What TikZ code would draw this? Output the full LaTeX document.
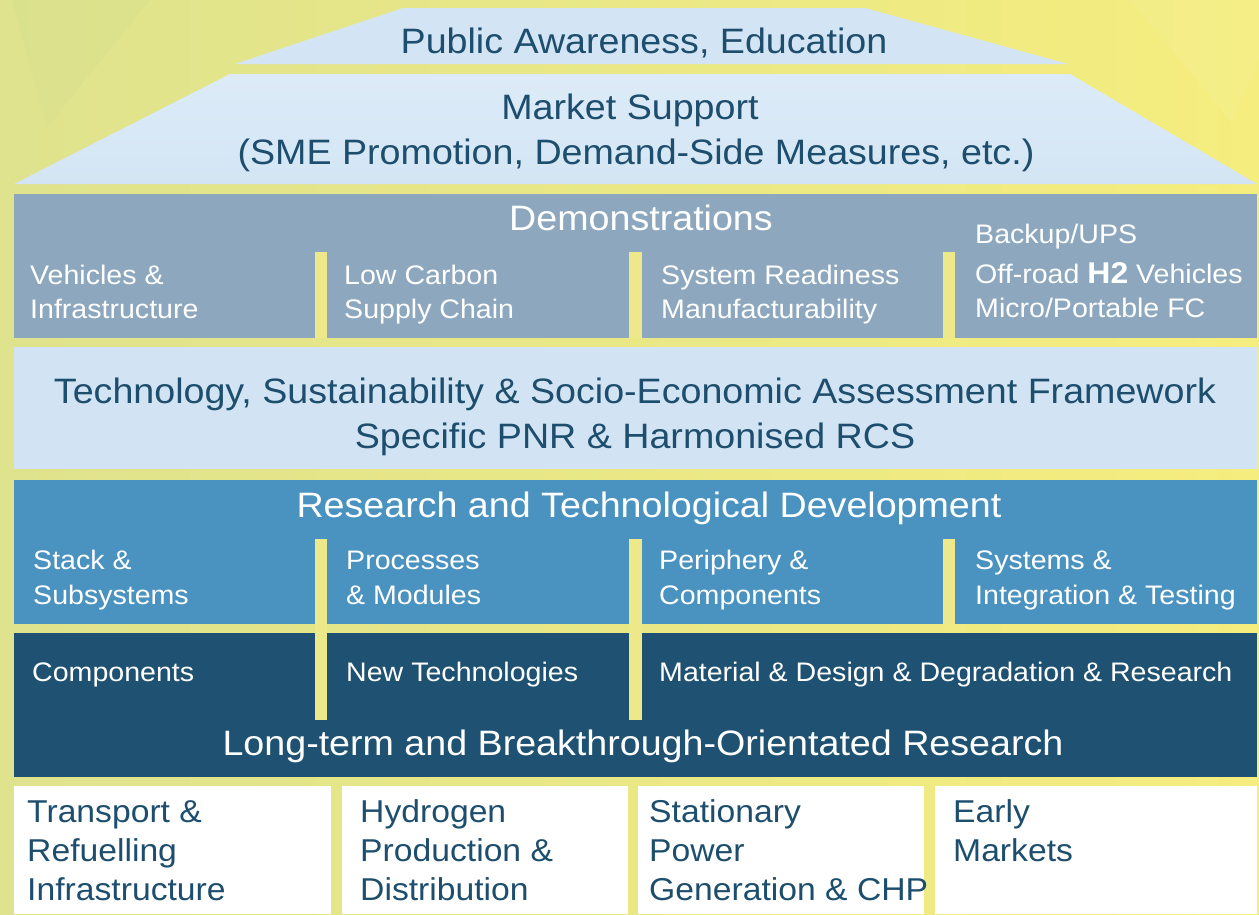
\documentclass[tikz,border=0pt]{standalone}
\usepackage{fontspec}
\setmainfont{Liberation Sans}[FakeStretch=1.066]
\definecolor{bgL}{HTML}{DFE38D}
\definecolor{bgR}{HTML}{F5ED7E}
\definecolor{bgG}{HTML}{D6DF8E}
\definecolor{barY}{HTML}{EDE98A}
\definecolor{roofB}{HTML}{D3E5F4}
\definecolor{roofT}{HTML}{DDEBF8}
\definecolor{demoB}{HTML}{8DA8BE}
\definecolor{tssB}{HTML}{D2E4F3}
\definecolor{rtdB}{HTML}{4A92C0}
\definecolor{ltB}{HTML}{1F5272}
\definecolor{darkT}{HTML}{1E4E6E}
\tikzset{
  bigdark/.style={font=\fontsize{35.3}{42}\selectfont, text=darkT, inner sep=0pt, anchor=base},
  bigwhite/.style={font=\fontsize{35.3}{42}\selectfont, text=white, inner sep=0pt, anchor=base},
  cell/.style={font=\fontsize{26.8}{34}\selectfont, text=white, inner sep=0pt, anchor=base west},
  foot/.style={font=\fontsize{31.6}{39}\selectfont, text=darkT, inner sep=0pt, anchor=base west},
  bar/.style={fill=barY},
}
\begin{document}
\begin{tikzpicture}[x=1pt,y=-1pt]
\useasboundingbox (0,0) rectangle (1259,914);
% background
\shade[left color=bgL, right color=bgR] (0,0) rectangle (1259,914);
\fill[bgG, opacity=0.45] (12,0) -- (150,0) -- (47,127) -- cycle;
\fill[white, opacity=0.07] (1130,0) -- (1259,0) -- (1259,60) -- (1232,122) -- cycle;
% roofs
\fill[roofB] (403,8) -- (865,8) -- (1068,64) -- (235,64) -- cycle;
\shade[top color=roofT, bottom color=roofB] (230,74) -- (1070,74) -- (1257,184) -- (14,184) -- cycle;
% blocks
\fill[demoB] (14,194) rectangle (1257,338);
\fill[bar] (315,252) rectangle (327,338);
\fill[bar] (629,252) rectangle (642,338);
\fill[bar] (943,252) rectangle (955,338);
\fill[tssB] (14,347) rectangle (1257,469);
\fill[rtdB] (14,480) rectangle (1257,624);
\fill[ltB] (14,633) rectangle (1257,777);
\fill[bar] (315,539) rectangle (327,720);
\fill[bar] (629,539) rectangle (642,720);
\fill[bar] (943,539) rectangle (955,624);
\fill[white] (14,786) rectangle (331,914);
\fill[white] (342,786) rectangle (628,914);
\fill[white] (638,786) rectangle (924,914);
\fill[white] (935,786) rectangle (1257,914);
% texts
\node[bigdark] (pae) at (644,53) {Public Awareness, Education};
\node[bigdark] (ms1) at (630,119) {Market Support};
\node[bigdark] (ms2) at (636,164) {(SME Promotion, Demand-Side Measures, etc.)};
\node[bigwhite] (demo) at (641,230) {Demonstrations};
\node[cell] (d1a) at (30,284) {Vehicles \&};
\node[cell] (d1b) at (30,318) {Infrastructure};
\node[cell] (d2a) at (344,284) {Low Carbon};
\node[cell] (d2b) at (344,318) {Supply Chain};
\node[cell] (d3a) at (661,284) {System Readiness};
\node[cell] (d3b) at (661,318) {Manufacturability};
\node[cell] (d4a) at (975,243) {Backup/UPS};
\node[cell] (d4b) at (975,283) {Off-road {\fontsize{30}{34}\selectfont\bfseries H2} Vehicles};
\node[cell] (d4c) at (975,317) {Micro/Portable FC};
\node[bigdark] (tss1) at (635,403) {Technology, Sustainability \& Socio-Economic Assessment Framework};
\node[bigdark] (tss2) at (635,448) {Specific PNR \& Harmonised RCS};
\node[bigwhite] (rtd) at (649,517) {Research and Technological Development};
\node[cell] (r1a) at (33,569) {Stack \&};
\node[cell] (r1b) at (33,604) {Subsystems};
\node[cell] (r2a) at (346,569) {Processes};
\node[cell] (r2b) at (346,604) {\& Modules};
\node[cell] (r3a) at (659,569) {Periphery \&};
\node[cell] (r3b) at (659,604) {Components};
\node[cell] (r4a) at (975,569) {Systems \&};
\node[cell] (r4b) at (975,604) {Integration \& Testing};
\node[cell] (l1) at (32,681) {Components};
\node[cell] (l2) at (346,681) {New Technologies};
\node[cell] (l3) at (659,681) {Material \& Design \& Degradation \& Research};
\node[bigwhite] (lt) at (643,755) {Long-term and Breakthrough-Orientated Research};
\node[foot] (b1a) at (27,822) {Transport \&};
\node[foot] (b1b) at (27,861) {Refuelling};
\node[foot] (b1c) at (27,900) {Infrastructure};
\node[foot] (b2a) at (360,822) {Hydrogen};
\node[foot] (b2b) at (360,861) {Production \&};
\node[foot] (b2c) at (360,900) {Distribution};
\node[foot] (b3a) at (649,822) {Stationary};
\node[foot] (b3b) at (649,861) {Power};
\node[foot] (b3c) at (649,900) {Generation \& CHP};
\node[foot] (b4a) at (953,822) {Early};
\node[foot] (b4b) at (953,861) {Markets};
\end{tikzpicture}
\end{document}
